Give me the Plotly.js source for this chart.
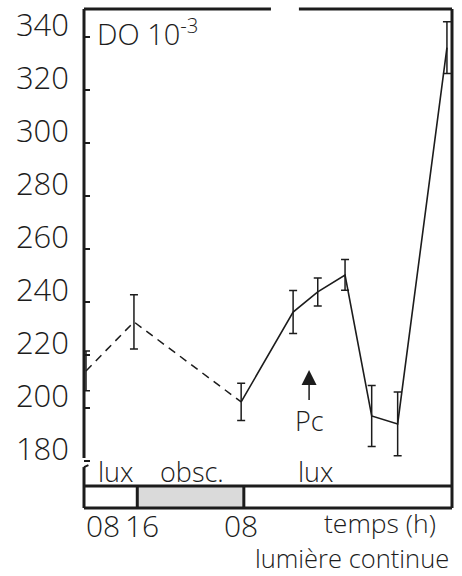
<!DOCTYPE html>
<html>
<head>
<meta charset="utf-8">
<script src="https://cdn.plot.ly/plotly-3.0.1.min.js"></script>
<style>html,body{margin:0;padding:0;background:#fff}#chart{width:462px;height:576px}</style>
</head>
<body>
<div id="chart"></div>
<script>
// time in hours after 08:00 on day 1
const hours   = [0.3, 7.5, 23.6, 31.4, 35.1, 39.2, 43.2, 47.1, 54.5];
const doValue = [214, 232.5, 202.3, 236.2, 243.8, 250.2, 197, 194, 336];
const doError = [7.5, 10.2, 7, 8.1, 5.3, 5.8, 11.5, 12, 9.8];
const dashedCount = 3;           // first three points joined by dashed line
const yTicks = [180, 200, 220, 240, 260, 280, 300, 320, 340];
const xLabelHours = [0, 8, 24];
const xLabelText = ['08', '16', '08'];
const periods = [
  {label: 'lux',   start: 0,  end: 8,    dark: false},
  {label: 'obsc.', start: 8,  end: 24,   dark: true},
  {label: 'lux',   start: 24, end: 55.26, dark: false}
];

const ink = '#1c1c1c';
const font = 'Open Sans, sans-serif';
const fw = 300;
const yMin = 162.27, yMax = 350.57, barTop = 170.57;
const xMax = 55.26;

const traces = [
  {x: hours.slice(0, dashedCount), y: doValue.slice(0, dashedCount), mode: 'lines',
   line: {color: ink, width: 1.5, dash: '8px,6px'}, hoverinfo: 'skip'},
  {x: hours.slice(dashedCount - 1), y: doValue.slice(dashedCount - 1), mode: 'lines',
   line: {color: ink, width: 1.6}, hoverinfo: 'skip'},
  {x: hours, y: doValue, mode: 'markers', marker: {size: 1, color: 'rgba(0,0,0,0)'},
   error_y: {type: 'data', array: doError, visible: true, color: ink, thickness: 1.5, width: 4}}
];

const shapes = [];
const pl = {color: ink, width: 3};
// frame
shapes.push({type: 'line', xref: 'paper', yref: 'paper', x0: 0, x1: 0, y0: 0.1002, y1: 1, line: pl});
shapes.push({type: 'line', xref: 'paper', yref: 'paper', x0: 0, x1: 0, y0: 0, y1: 0.082, line: pl});
shapes.push({type: 'line', xref: 'paper', yref: 'paper', x0: 0, x1: 0.012, y0: 0.082, y1: 0.086, line: {color: ink, width: 2}});
shapes.push({type: 'line', xref: 'paper', yref: 'paper', x0: 0, x1: 0.508, y0: 1, y1: 1, line: pl});
shapes.push({type: 'line', xref: 'paper', yref: 'paper', x0: 0.584, x1: 1, y0: 1, y1: 1, line: pl});
shapes.push({type: 'line', xref: 'paper', yref: 'paper', x0: 1, x1: 1, y0: 0, y1: 1, line: pl});
shapes.push({type: 'line', xref: 'paper', yref: 'y', x0: 0, x1: 1, y0: barTop, y1: barTop, line: pl});
shapes.push({type: 'line', xref: 'paper', yref: 'paper', x0: 0, x1: 1, y0: 0, y1: 0, line: pl});
// light/dark bar
periods.forEach(p => {
  if (p.dark) {
    shapes.push({type: 'rect', xref: 'x', yref: 'y', x0: p.start, x1: p.end, y0: yMin, y1: barTop,
      fillcolor: '#dadada', line: {width: 0}, layer: 'below'});
  }
  if (p.start > 0) {
    shapes.push({type: 'line', xref: 'x', yref: 'y', x0: p.start, x1: p.start, y0: yMin, y1: barTop, line: pl});
  }
});

const annotations = [];
periods.forEach(p => {
  const mid = p.label === 'lux' && p.start > 0 ? 34.8 : (p.start + p.end) / 2 + (p.dark ? 0.2 : 0.8);
  annotations.push({x: mid, y: 176.2, xref: 'x', yref: 'y', text: p.label, showarrow: false,
    yanchor: 'middle', xanchor: 'center', font: {family: font, weight: fw, size: 27, color: ink}});
});
xLabelHours.forEach((h, i) => {
  annotations.push({x: h, y: -0.036, xref: 'x', yref: 'paper', text: xLabelText[i], showarrow: false,
    yanchor: 'middle', xanchor: i === 0 ? 'left' : 'center', xshift: i === 1 ? 5 : (i === 2 ? -3 : 0),
    font: {family: font, weight: fw, size: 30, color: ink}});
});
annotations.push({x: 0.804, y: -0.030, xref: 'paper', yref: 'paper', text: 'temps (h)', showarrow: false,
  xanchor: 'center', yanchor: 'middle', borderpad: 0, font: {family: font, weight: fw, size: 26.5, color: ink}});
annotations.push({x: 0.727, y: -0.100, xref: 'paper', yref: 'paper', text: 'lumière continue', showarrow: false,
  xanchor: 'center', yanchor: 'middle', borderpad: 0, font: {family: font, weight: fw, size: 25.5, color: ink}});
annotations.push({x: 0.03, y: 0.954, xref: 'paper', yref: 'paper', xanchor: 'left', yanchor: 'middle',
  text: 'DO 10<sup>-3</sup>', showarrow: false, font: {family: font, weight: fw, size: 29, color: ink}});
annotations.push({x: 33.8, y: 214.3, xref: 'x', yref: 'y', text: 'Pc', showarrow: true, ax: 0, ay: 50,
  arrowhead: 2, arrowsize: 2, arrowwidth: 1.5, arrowcolor: ink, standoff: 0,
  font: {family: font, weight: fw, size: 27, color: ink}});

const layout = {
  width: 462, height: 576,
  margin: {l: 84, r: 10, t: 9, b: 68},
  paper_bgcolor: '#fff', plot_bgcolor: '#fff',
  showlegend: false,
  xaxis: {range: [0, xMax], showgrid: false, zeroline: false, showline: false,
    showticklabels: false, ticks: ''},
  yaxis: {range: [yMin, yMax], showgrid: false, zeroline: false, showline: false,
    tickvals: yTicks, ticktext: yTicks.map(String), ticks: 'inside', ticklen: 6, tickwidth: 2,
    tickcolor: ink, ticklabelshift: -12, ticklabelstandoff: 14,
    tickfont: {family: font, weight: fw, size: 31, color: ink}},
  shapes: shapes,
  annotations: annotations
};

Plotly.newPlot('chart', traces, layout, {staticPlot: true});
</script>
</body>
</html>
